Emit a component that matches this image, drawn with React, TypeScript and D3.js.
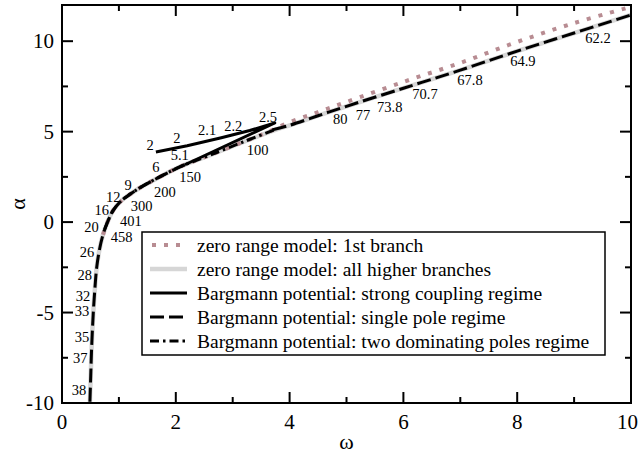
import React from 'react';
import * as d3 from 'd3';

// ---------- data (ω, α) ----------
const higherOmega = [0.49, 0.505, 0.52, 0.55, 0.58, 0.61, 0.66, 0.72, 0.8, 0.9, 1.05, 1.2, 1.37, 1.7, 2.07, 2.6, 3.2, 3.8, 4.0, 4.5, 5, 6, 7, 8, 9, 10];
const higherAlpha = [-10, -8.5, -7, -5, -3.6, -2.5, -1.5, -0.7, 0, 0.65, 1.2, 1.55, 1.9, 2.47, 3.05, 3.7, 4.45, 5.15, 5.35, 5.88, 6.4, 7.4, 8.4, 9.45, 10.45, 11.45];

const firstOmega = [0.72, 0.8, 0.9, 1.05, 1.2, 1.37, 1.7, 2.07, 2.6, 3.2, 3.6, 4.0, 4.5, 5, 6, 7, 8, 9, 10];
const firstAlpha = [-0.7, 0, 0.65, 1.2, 1.55, 1.9, 2.47, 3.05, 3.7, 4.45, 4.95, 5.52, 6.08, 6.64, 7.75, 8.8, 9.96, 11.0, 11.9];

const strongOmega = [1.65, 2.2, 2.8, 3.3, 3.74, 2.16];
const strongAlpha = [3.87, 4.22, 4.66, 5.06, 5.48, 3.17];

const singleLeftOmega = [2.16, 2.07, 1.7, 1.37, 1.2, 1.05, 0.9, 0.8, 0.72, 0.66, 0.61, 0.58, 0.55, 0.52, 0.505, 0.49];
const singleLeftAlpha = [3.17, 3.05, 2.47, 1.9, 1.55, 1.2, 0.65, 0, -0.7, -1.5, -2.5, -3.6, -5, -7, -8.5, -10];

const singleRightOmega = [3.7, 4.0, 4.5, 5, 6, 7, 8, 9, 10];
const singleRightAlpha = [5.1, 5.35, 5.88, 6.4, 7.4, 8.4, 9.45, 10.45, 11.45];

const twoPoleOmega = [3.72, 3.2, 2.6, 2.07, 1.7, 1.37, 1.2, 1.05, 0.9, 0.8, 0.75];
const twoPoleAlpha = [5.08, 4.45, 3.7, 3.05, 2.47, 1.9, 1.55, 1.2, 0.65, 0, -0.4];

const pointLabels = ['62.2', '64.9', '67.8', '70.7', '73.8', '77', '80', '100', '2.5', '2.2', '2.1', '2', '2', '5.1', '6', '150', '200', '300', '401', '458', '9', '12', '16', '20', '26', '28', '32', '33', '35', '37', '38'];
const pointLabelOmega = [9.42, 8.10, 7.17, 6.38, 5.76, 5.29, 4.89, 3.44, 3.62, 3.01, 2.55, 2.02, 1.55, 2.07, 1.65, 2.25, 1.81, 1.40, 1.21, 1.05, 1.16, 0.90, 0.70, 0.52, 0.44, 0.40, 0.37, 0.35, 0.35, 0.32, 0.30];
const pointLabelAlpha = [10.18, 8.91, 7.86, 7.08, 6.36, 5.92, 5.70, 3.98, 5.81, 5.31, 5.09, 4.65, 4.26, 3.71, 3.05, 2.49, 1.66, 0.88, 0.04, -0.80, 2.05, 1.39, 0.67, -0.27, -1.65, -2.92, -4.08, -4.92, -6.35, -7.51, -9.28];

const xTicks = [0, 2, 4, 6, 8, 10];
const xMinorTicks = [1, 3, 5, 7, 9];
const yTicks = [-10, -5, 0, 5, 10];
const yMinorTicks = [-7.5, -2.5, 2.5, 7.5];

const legendLabels = [
  'zero range model: 1st branch',
  'zero range model: all higher branches',
  'Bargmann potential: strong coupling regime',
  'Bargmann potential: single pole regime',
  'Bargmann potential: two dominating poles regime',
];

const W = 639;
const H = 456;
const FONT = '"Liberation Serif", "Times New Roman", serif';

export default function App() {
  const x = d3.scaleLinear().domain([0, 10]).range([62, 631]);
  const y = d3.scaleLinear().domain([-10, 12]).range([403, 5]);

  const zip = (a: number[], b: number[]) => a.map((v, i) => [v, b[i]] as [number, number]);
  const smooth = d3.line<[number, number]>().x(d => x(d[0])).y(d => y(d[1])).curve(d3.curveCatmullRom.alpha(0.5));
  const straight = d3.line<[number, number]>().x(d => x(d[0])).y(d => y(d[1]));

  const [x0, x1] = x.range();
  const [y0, y1] = y.range();
  const major = 11;
  const minor = 6;

  const legendX = 142, legendY = 232, legendW = 463, legendH = 123;
  const rowY = (i: number) => 245 + i * 24;

  const black = '#000';
  const gray = '#d6d6d6';
  const pink = '#b88c92';
  const dashed = '14,5';
  const dashDot = '9,4,2.5,4';

  return (
    <svg width={W} height={H} style={{ position: 'absolute', left: 0, top: 0, background: '#fff' }} xmlns="http://www.w3.org/2000/svg">
      <rect x={0} y={0} width={W} height={H} fill="#fff" />
      <g fill="none" strokeLinejoin="round">
        <path d={smooth(zip(higherOmega, higherAlpha)) || ''} stroke={gray} strokeWidth={4.5} />
        <path d={smooth(zip(firstOmega, firstAlpha)) || ''} stroke={pink} strokeWidth={4} strokeDasharray="4,8" />
        <path d={smooth(zip(singleLeftOmega, singleLeftAlpha)) || ''} stroke={black} strokeWidth={3} strokeDasharray={dashed} />
        <path d={smooth(zip(singleRightOmega, singleRightAlpha)) || ''} stroke={black} strokeWidth={3} strokeDasharray={dashed} />
        <path d={smooth(zip(twoPoleOmega, twoPoleAlpha)) || ''} stroke={black} strokeWidth={3} strokeDasharray={dashDot} />
        <path d={straight(zip(strongOmega, strongAlpha)) || ''} stroke={black} strokeWidth={3} />
      </g>

      <g style={{ fontFamily: FONT }} fontSize={14.5} fill="#000" textAnchor="middle" dominantBaseline="central">
        {pointLabels.map((t, i) => (
          <text key={i} x={x(pointLabelOmega[i])} y={y(pointLabelAlpha[i])}>{t}</text>
        ))}
      </g>

      {/* frame */}
      <rect x={x0} y={y1} width={x1 - x0} height={y0 - y1} fill="none" stroke="#000" strokeWidth={2} />
      <g stroke="#000" strokeWidth={2}>
        {xTicks.map(t => (
          <g key={'xm' + t}>
            <line x1={x(t)} x2={x(t)} y1={y0} y2={y0 - major} />
            <line x1={x(t)} x2={x(t)} y1={y1} y2={y1 + major} />
          </g>
        ))}
        {xMinorTicks.map(t => (
          <g key={'xn' + t}>
            <line x1={x(t)} x2={x(t)} y1={y0} y2={y0 - minor} />
            <line x1={x(t)} x2={x(t)} y1={y1} y2={y1 + minor} />
          </g>
        ))}
        {yTicks.map(t => (
          <g key={'ym' + t}>
            <line x1={x0} x2={x0 + major} y1={y(t)} y2={y(t)} />
            <line x1={x1} x2={x1 - major} y1={y(t)} y2={y(t)} />
          </g>
        ))}
        {yMinorTicks.map(t => (
          <g key={'yn' + t}>
            <line x1={x0} x2={x0 + minor} y1={y(t)} y2={y(t)} />
            <line x1={x1} x2={x1 - minor} y1={y(t)} y2={y(t)} />
          </g>
        ))}
      </g>
      <g style={{ fontFamily: FONT }} fontSize={21} fill="#000">
        {xTicks.map((t, i) => {
          const last = i === xTicks.length - 1;
          return (
            <text key={'xl' + t} x={last ? W - 1 : x(t)} y={y0 + 19} textAnchor={last ? 'end' : 'middle'} dominantBaseline="central">{t}</text>
          );
        })}
        {yTicks.map(t => (
          <text key={'yl' + t} x={x0 - 8} y={y(t)} textAnchor="end" dominantBaseline="central">{t}</text>
        ))}
      </g>
      <text x={(x0 + x1) / 2} y={441} style={{ fontFamily: FONT }} fontSize={22} textAnchor="middle" dominantBaseline="central">ω</text>
      <text transform={`translate(17,${(y0 + y1) / 2}) rotate(-90)`} style={{ fontFamily: FONT }} fontSize={22} textAnchor="middle" dominantBaseline="central">α</text>

      {/* legend */}
      <rect x={legendX} y={legendY} width={legendW} height={legendH} fill="#fff" stroke="#000" strokeWidth={1.5} />
      <g fill="none">
        <line x1={152} x2={186} y1={rowY(0)} y2={rowY(0)} stroke={pink} strokeWidth={4} strokeDasharray="4,8" />
        <line x1={150} x2={187} y1={rowY(1)} y2={rowY(1)} stroke={gray} strokeWidth={4.5} />
        <line x1={150} x2={187} y1={rowY(2)} y2={rowY(2)} stroke={black} strokeWidth={3} />
        <line x1={150} x2={187} y1={rowY(3)} y2={rowY(3)} stroke={black} strokeWidth={3} strokeDasharray={dashed} />
        <line x1={150} x2={187} y1={rowY(4)} y2={rowY(4)} stroke={black} strokeWidth={3} strokeDasharray={dashDot} />
      </g>
      <g style={{ fontFamily: FONT }} fontSize={19.5} fill="#000" dominantBaseline="central">
        {legendLabels.map((t, i) => (
          <text key={t} x={197} y={rowY(i)}>{t}</text>
        ))}
      </g>
    </svg>
  );
}
